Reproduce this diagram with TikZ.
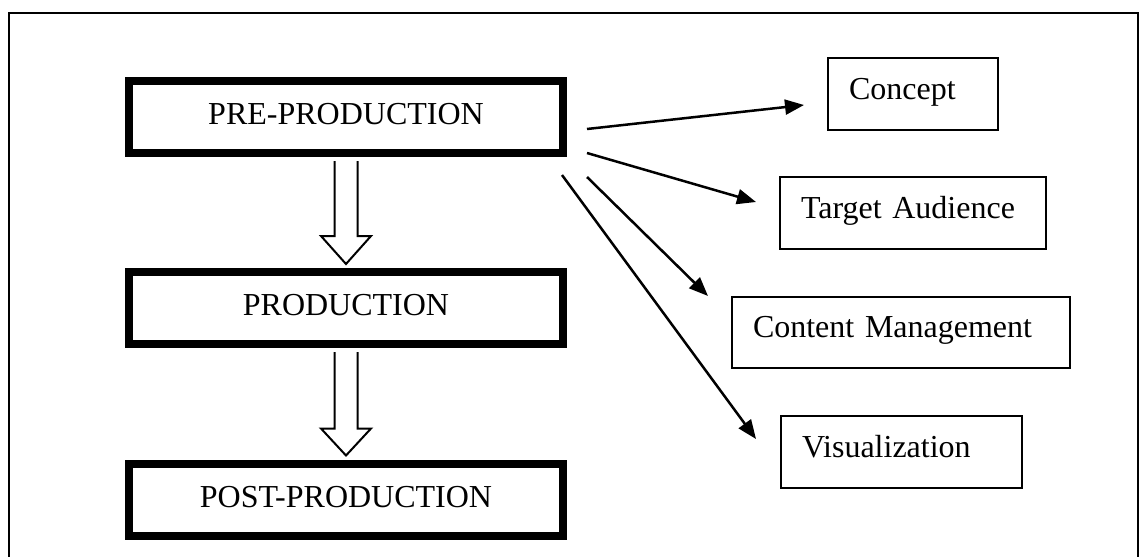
\documentclass[tikz,border=0pt]{standalone}
\usepackage{fontspec}
\setmainfont{Liberation Serif}
\usetikzlibrary{arrows.meta,calc}
\begin{document}
\begin{tikzpicture}[x=1pt,y=-1pt,
  phasebox/.style={draw=black,line width=8pt,rectangle,fill=white,minimum width=434pt,
    minimum height=72pt,inner sep=0pt,text height=22pt,text depth=7pt,
    font=\fontsize{32}{38}\selectfont},
  itembox/.style={draw=black,line width=2pt,rectangle,anchor=north west,inner xsep=21pt,inner ysep=0pt,
    text height=21pt,text depth=11pt,font=\fontsize{32}{38}\selectfont},
  flowarrow/.style={draw=black,line width=2pt,line join=miter},
  thinarrow/.style={draw=black,line width=2.5pt,-{Triangle[length=19pt,width=15pt]}}]
\useasboundingbox (0,0) rectangle (1141,557);
\fill[white] (0,0) rectangle (1141,557);
% outer frame (open at the bottom edge of the picture)
\draw[line width=2pt] (9,557) -- (9,13) -- (1138,13) -- (1138,557);

% phases
\node[phasebox] (pre)  at (346,117)   {PRE-PRODUCTION};
\node[phasebox] (prod) at (346,308)   {PRODUCTION};
\node[phasebox] (post) at (346,499.5) {POST-PRODUCTION};

% hollow arrows
\draw[flowarrow] ($(pre.south)+(-11.5,4)$) -- ($(prod.north)+(-11.5,-32)$) -- ($(prod.north)+(-25,-32)$)
  -- ($(prod.north)+(0,-4)$) -- ($(prod.north)+(25,-32)$) -- ($(prod.north)+(11.5,-32)$) -- ($(pre.south)+(11.5,4)$);
\draw[flowarrow] ($(prod.south)+(-11.5,4)$) -- ($(post.north)+(-11.5,-31)$) -- ($(post.north)+(-25,-31)$)
  -- ($(post.north)+(0,-4)$) -- ($(post.north)+(25,-31)$) -- ($(post.north)+(11.5,-31)$) -- ($(prod.south)+(11.5,4)$);

% items
\node[itembox,minimum width=170pt,minimum height=72pt,text width=128pt] (concept) at (827,57) {Concept};
\node[itembox,minimum width=266pt,minimum height=72pt,text width=224pt] (target) at (779,176) {Target Audience};
\node[itembox,minimum width=338pt,minimum height=71pt,text width=296pt] (content) at (731,296) {Content Management};
\node[itembox,minimum width=241pt,minimum height=72pt,text width=199pt] (visual) at (780,415) {Visualization};

% arrow end points
\coordinate (s1) at (587,129);
\coordinate (s2) at (587,153);
\coordinate (s3) at (587,177);
\coordinate (s4) at (562,175);
\coordinate (e1) at (804,105);
\coordinate (e2) at (756,202);
\coordinate (e3) at (708,296);
\coordinate (e4) at (756,439);
\draw[thinarrow] (s1) -- (e1);
\draw[thinarrow] (s2) -- (e2);
\draw[thinarrow] (s3) -- (e3);
\draw[thinarrow] (s4) -- (e4);
\end{tikzpicture}
\end{document}
